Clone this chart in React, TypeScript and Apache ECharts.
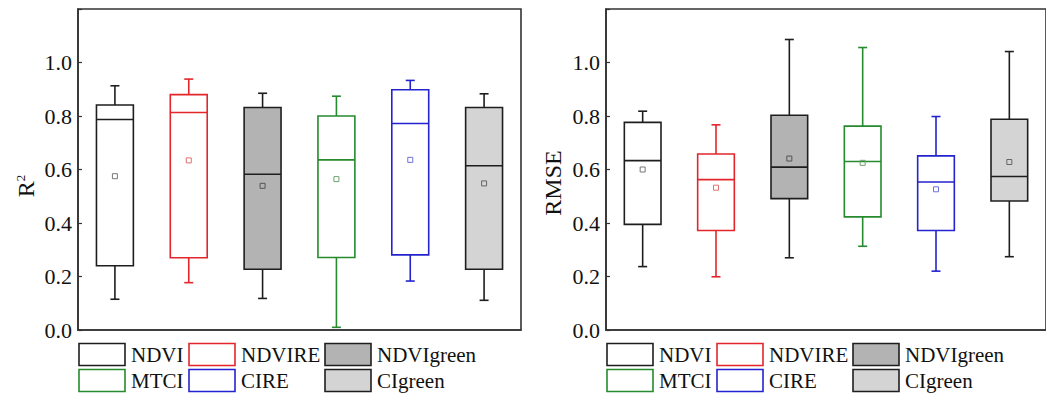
import React, { useEffect, useRef } from "react";
import * as echarts from "echarts";

const categories = ["NDVI", "NDVIRE", "NDVIgreen", "MTCI", "CIRE", "CIgreen"];
const legendRows = [
  ["NDVI", "NDVIRE", "NDVIgreen"],
  ["MTCI", "CIRE", "CIgreen"],
];
const yTicks = [0, 0.2, 0.4, 0.6, 0.8, 1.0];

const r2Low = [0.115, 0.177, 0.118, 0.01, 0.183, 0.111];
const r2Q1 = [0.24, 0.27, 0.227, 0.271, 0.281, 0.227];
const r2Median = [0.787, 0.813, 0.582, 0.636, 0.772, 0.614];
const r2Q3 = [0.841, 0.88, 0.832, 0.8, 0.898, 0.832];
const r2High = [0.913, 0.938, 0.885, 0.874, 0.933, 0.883];
const r2Mean = [0.575, 0.634, 0.539, 0.564, 0.636, 0.548];

const rmseLow = [0.237, 0.199, 0.27, 0.313, 0.22, 0.274];
const rmseQ1 = [0.395, 0.372, 0.491, 0.423, 0.372, 0.482];
const rmseMedian = [0.633, 0.562, 0.609, 0.63, 0.553, 0.574];
const rmseQ3 = [0.776, 0.658, 0.803, 0.762, 0.651, 0.788];
const rmseHigh = [0.818, 0.767, 1.086, 1.056, 0.798, 1.041];
const rmseMean = [0.6, 0.532, 0.641, 0.625, 0.526, 0.628];

const strokeColors: Record<string, string> = {
  NDVI: "#1e1e1e",
  NDVIRE: "#e2262b",
  NDVIgreen: "#1e1e1e",
  MTCI: "#268a2e",
  CIRE: "#2323cf",
  CIgreen: "#1e1e1e",
};
const fillColors: Record<string, string> = {
  NDVI: "#ffffff",
  NDVIRE: "#ffffff",
  NDVIgreen: "#b3b3b3",
  MTCI: "#ffffff",
  CIRE: "#ffffff",
  CIgreen: "#d4d4d4",
};
const meanColors: Record<string, string> = {
  NDVI: "#777777",
  NDVIRE: "#e07070",
  NDVIgreen: "#555555",
  MTCI: "#70a070",
  CIRE: "#7070e0",
  CIgreen: "#666666",
};

const FONT = "'Liberation Serif', 'Times New Roman', serif";

function boxData(low: number[], q1: number[], med: number[], q3: number[], high: number[], mean: number[]) {
  return categories.map((_, i) => [i, low[i], q1[i], med[i], q3[i], high[i], mean[i]]);
}

function renderBox(params: any, api: any) {
  const i = api.value(0);
  const name = categories[i];
  const stroke = strokeColors[name];
  const fill = fillColors[name];
  const x = api.coord([i, 0])[0];
  const yLow = api.coord([i, api.value(1)])[1];
  const yQ1 = api.coord([i, api.value(2)])[1];
  const yMed = api.coord([i, api.value(3)])[1];
  const yQ3 = api.coord([i, api.value(4)])[1];
  const yHigh = api.coord([i, api.value(5)])[1];
  const yMean = api.coord([i, api.value(6)])[1];
  const bw = api.size([1, 0])[0] * 0.5;
  const cap = 9;
  const ls = { stroke, lineWidth: 1.6, fill: "none" };
  return {
    type: "group",
    children: [
      { type: "line", shape: { x1: x, y1: yHigh, x2: x, y2: yQ3 }, style: ls },
      { type: "line", shape: { x1: x, y1: yQ1, x2: x, y2: yLow }, style: ls },
      { type: "line", shape: { x1: x - cap / 2, y1: yHigh, x2: x + cap / 2, y2: yHigh }, style: ls },
      { type: "line", shape: { x1: x - cap / 2, y1: yLow, x2: x + cap / 2, y2: yLow }, style: ls },
      {
        type: "rect",
        shape: { x: x - bw / 2, y: yQ3, width: bw, height: yQ1 - yQ3 },
        style: { fill, stroke, lineWidth: 1.6 },
      },
      { type: "line", shape: { x1: x - bw / 2, y1: yMed, x2: x + bw / 2, y2: yMed }, style: ls },
      {
        type: "rect",
        shape: { x: x - 2.5, y: yMean - 2.5, width: 5, height: 5 },
        style: { fill: "none", stroke: meanColors[name], lineWidth: 1 },
      },
    ],
  };
}

function legendGraphics(left: number) {
  const out: any[] = [];
  const colOffsets = [1, 111, 247];
  const rowTops = [343.5, 369.5];
  legendRows.forEach((row, r) => {
    row.forEach((name, c) => {
      const rx = left + colOffsets[c];
      out.push({
        type: "rect",
        shape: { x: rx, y: rowTops[r], width: 46, height: 22 },
        style: { fill: fillColors[name], stroke: strokeColors[name], lineWidth: 1.6 },
      });
      out.push({
        type: "text",
        x: rx + 52,
        y: rowTops[r] + 11.5,
        style: {
          text: name,
          font: `21px ${FONT}`,
          fill: "#111",
          verticalAlign: "middle",
          align: "left",
        },
      });
    });
  });
  return out;
}

export default function App() {
  const ref = useRef<HTMLDivElement>(null);
  useEffect(() => {
    if (!ref.current) return;
    const chart = echarts.init(ref.current, null, { renderer: "svg" });
    const grids = [
      { left: 78, top: 9, width: 443, height: 321 },
      { left: 606, top: 9, width: 450, height: 321 },
    ];
    const yAxisCommon = {
      type: "value",
      min: 0,
      max: 1.2,
      interval: 0.2,
      splitLine: { show: false },
      axisLine: { show: true, lineStyle: { color: "#333", width: 1.6 } },
      axisTick: { show: true, inside: true, length: 4, lineStyle: { color: "#333", width: 1.2 } },
      axisLabel: {
        fontFamily: FONT,
        fontSize: 22,
        color: "#111",
        margin: 6,
        formatter: (v: number) => (yTicks.some((t) => Math.abs(t - v) < 1e-6) ? v.toFixed(1) : ""),
      },
    };
    const xAxisCommon = {
      type: "category",
      data: categories,
      axisLabel: { show: false },
      axisTick: { show: false },
      axisLine: { show: true, lineStyle: { color: "#333", width: 1.6 } },
    };
    chart.setOption({
      animation: false,
      backgroundColor: "#ffffff",
      grid: grids.map((g) => ({ ...g, show: true, borderColor: "#333", borderWidth: 1.6, backgroundColor: "transparent" })),
      xAxis: [
        { ...xAxisCommon, gridIndex: 0 },
        { ...xAxisCommon, gridIndex: 1 },
      ],
      yAxis: [
        { ...yAxisCommon, gridIndex: 0 },
        { ...yAxisCommon, gridIndex: 1 },
      ],
      series: [
        {
          type: "custom",
          name: "R2",
          xAxisIndex: 0,
          yAxisIndex: 0,
          renderItem: renderBox,
          encode: { x: 0, y: [1, 2, 3, 4, 5, 6] },
          data: boxData(r2Low, r2Q1, r2Median, r2Q3, r2High, r2Mean),
        },
        {
          type: "custom",
          name: "RMSE",
          xAxisIndex: 1,
          yAxisIndex: 1,
          renderItem: renderBox,
          encode: { x: 0, y: [1, 2, 3, 4, 5, 6] },
          data: boxData(rmseLow, rmseQ1, rmseMedian, rmseQ3, rmseHigh, rmseMean),
        },
      ],
      graphic: [
        {
          type: "text",
          x: 26,
          y: 186,
          rotation: Math.PI / 2,
          style: {
            text: "{a|R}{b|2}",
            align: "center",
            verticalAlign: "middle",
            rich: {
              a: { fontFamily: FONT, fontSize: 24, fill: "#111", color: "#111" },
              b: { fontFamily: FONT, fontSize: 13, fill: "#111", color: "#111", verticalAlign: "top", lineHeight: 24 },
            },
          },
        },
        {
          type: "text",
          x: 553,
          y: 183,
          rotation: Math.PI / 2,
          style: {
            text: "RMSE",
            font: `24px ${FONT}`,
            fill: "#111",
            align: "center",
            verticalAlign: "middle",
          },
        },
        ...legendGraphics(78),
        ...legendGraphics(606),
      ],
    });
    return () => chart.dispose();
  }, []);
  return (
    <div
      ref={ref}
      style={{ position: "fixed", left: 0, top: 0, width: 1046, height: 397, background: "#fff" }}
    />
  );
}
